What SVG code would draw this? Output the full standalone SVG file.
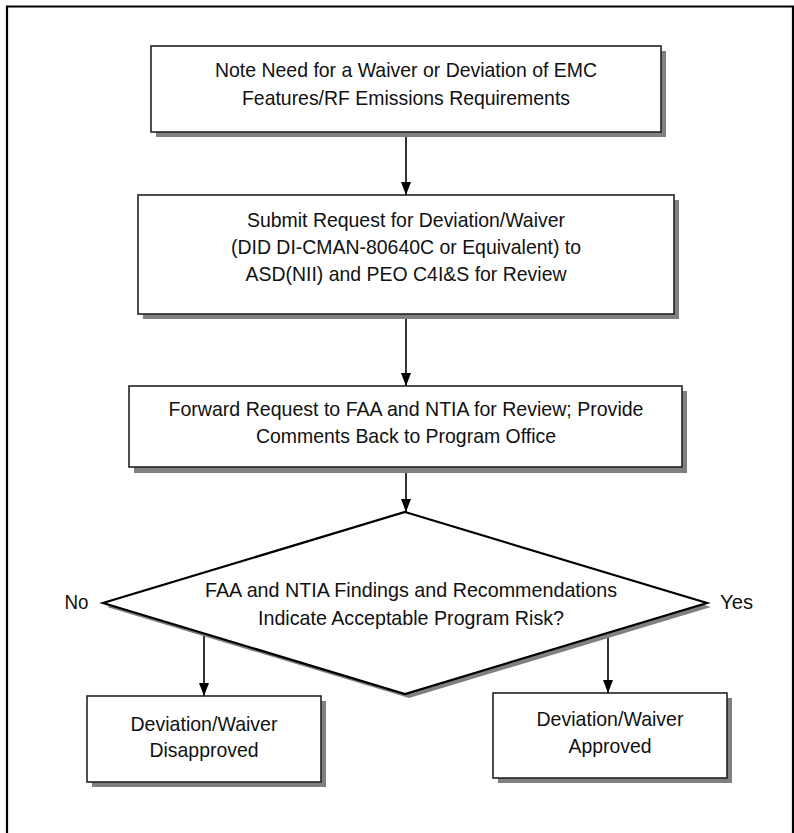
<svg xmlns="http://www.w3.org/2000/svg" width="794" height="833" viewBox="0 0 794 833">
<style>
.frame{fill:none;stroke:#000;stroke-width:2.2}
.box{fill:#fff;stroke:#222;stroke-width:1.6}
.shadow{fill:#808080;stroke:none}
.dia{fill:#fff;stroke:#000;stroke-width:2.2;stroke-linejoin:miter}
.t{font-family:"Liberation Sans Narrow","Arial Narrow","Liberation Sans",Arial,sans-serif;font-size:21px;fill:#111;text-anchor:middle}
.c{stroke:#000;stroke-width:1.6;fill:none;marker-end:url(#ah)}
</style>
<defs>
<marker id="ah" markerUnits="userSpaceOnUse" markerWidth="13" markerHeight="10" refX="13" refY="5" orient="auto">
<path d="M0,0 L13,5 L0,10 z" fill="#000"/>
</marker>
</defs>
<rect width="794" height="833" fill="#fff"/>
<path class="frame" d="M7,836 V6.5 H793 V836"/>

<g id="connectors">
<line class="c" x1="406" y1="137" x2="406" y2="195"/>
<line class="c" x1="406" y1="319" x2="406" y2="386"/>
<line class="c" x1="406" y1="473" x2="406" y2="512"/>
<line class="c" x1="204" y1="634" x2="204" y2="696"/>
<line class="c" x1="608" y1="633" x2="608" y2="693"/>
</g>

<g id="n1">
<rect class="shadow" x="156" y="51" width="510" height="86"/>
<rect class="box" x="151" y="46" width="510" height="86"/>
<text class="t" x="406" y="77" textLength="382" lengthAdjust="spacingAndGlyphs">Note Need for a Waiver or Deviation of EMC</text>
<text class="t" x="406" y="105" textLength="328" lengthAdjust="spacingAndGlyphs">Features/RF Emissions Requirements</text>
</g>

<g id="n2">
<rect class="shadow" x="143" y="200" width="536" height="119"/>
<rect class="box" x="138" y="195" width="536" height="119"/>
<text class="t" x="406" y="227" textLength="318" lengthAdjust="spacingAndGlyphs">Submit Request for Deviation/Waiver</text>
<text class="t" x="406" y="254" textLength="350" lengthAdjust="spacingAndGlyphs">(DID DI-CMAN-80640C or Equivalent) to</text>
<text class="t" x="406" y="281" textLength="321" lengthAdjust="spacingAndGlyphs">ASD(NII) and PEO C4I&amp;S for Review</text>
</g>

<g id="n3">
<rect class="shadow" x="134" y="391" width="553" height="82"/>
<rect class="box" x="129" y="386" width="553" height="81"/>
<text class="t" x="406" y="416" textLength="475" lengthAdjust="spacingAndGlyphs">Forward Request to FAA and NTIA for Review; Provide</text>
<text class="t" x="406" y="443" textLength="300" lengthAdjust="spacingAndGlyphs">Comments Back to Program Office</text>
</g>

<g id="n4">
<polygon class="shadow" points="409,516 711,607 409,698 107,607"/>
<polygon class="dia" points="405,512 707,603 405,694 103,603"/>
<text class="t" x="411" y="597" textLength="412" lengthAdjust="spacingAndGlyphs">FAA and NTIA Findings and Recommendations</text>
<text class="t" x="411" y="625" textLength="306" lengthAdjust="spacingAndGlyphs">Indicate Acceptable Program Risk?</text>
</g>

<g id="lblNo"><text class="t" x="76.5" y="609" textLength="24" lengthAdjust="spacingAndGlyphs">No</text></g>
<g id="lblYes"><text class="t" x="736.5" y="609" textLength="33" lengthAdjust="spacingAndGlyphs">Yes</text></g>

<g id="n5">
<rect class="shadow" x="92" y="701" width="234" height="86"/>
<rect class="box" x="87" y="696" width="234" height="86"/>
<text class="t" x="204" y="731" textLength="147" lengthAdjust="spacingAndGlyphs">Deviation/Waiver</text>
<text class="t" x="204" y="757" textLength="109" lengthAdjust="spacingAndGlyphs">Disapproved</text>
</g>

<g id="n6">
<rect class="shadow" x="498" y="698" width="234" height="85"/>
<rect class="box" x="493" y="693" width="234" height="85"/>
<text class="t" x="610" y="726" textLength="147" lengthAdjust="spacingAndGlyphs">Deviation/Waiver</text>
<text class="t" x="610" y="753" textLength="83" lengthAdjust="spacingAndGlyphs">Approved</text>
</g>
</svg>
